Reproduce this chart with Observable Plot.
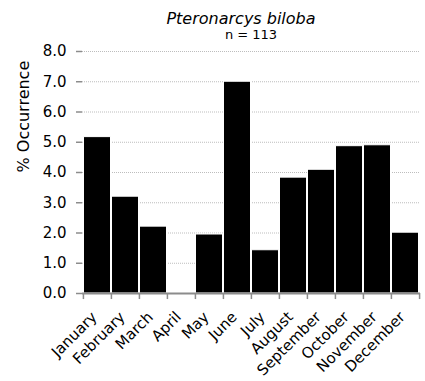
<!DOCTYPE html>
<html><head><meta charset="utf-8">
<script src="https://cdn.jsdelivr.net/npm/d3@7"></script>
<script src="https://cdn.jsdelivr.net/npm/@observablehq/plot@0.6"></script>
<style>
body{margin:0;background:#fff;}
#wrap{position:relative;width:425px;height:381px;font-family:"DejaVu Sans",Verdana,sans-serif;}
#title{position:absolute;left:0;width:482px;top:10.5px;line-height:1;text-align:center;font-size:16px;font-style:italic;}
#sub{position:absolute;left:82px;width:338px;top:28px;line-height:1;text-align:center;font-size:13px;}
#chart{position:absolute;left:0;top:0;}
</style></head>
<body><div id="wrap"><div id="chart"></div><div id="title">Pteronarcys biloba</div><div id="sub">n = 113</div></div>
<script>
const months = ["January","February","March","April","May","June","July","August","September","October","November","December"];
const occurrence = [5.17,3.20,2.21,0,1.95,7.0,1.43,3.83,4.09,4.87,4.90,2.01];
const yTicks = [0,1,2,3,4,5,6,7,8];
const data = months.map((m,i)=>({month:m, value:occurrence[i]}));
const W=425,H=381,ML=82,MR=5,MT=51,MB=88;
const step=(W-ML-MR)/months.length;
const axisColor="#8c8c8c";
const plot = Plot.plot({
  width:W,height:H,marginLeft:ML,marginRight:MR,marginTop:MT,marginBottom:MB,
  style:{fontFamily:"DejaVu Sans, Verdana, sans-serif",fontSize:"15px",color:"#000",background:"#fff"},
  x:{type:"band",domain:months,padding:0,axis:null},
  y:{domain:[0,8],axis:null},
  marks:[
    Plot.ruleY(yTicks.slice(1),{stroke:"#bdbdbd",strokeDasharray:"1,1",strokeWidth:1}),
    Plot.barY(data,{x:"month",y:"value",fill:"#000",stroke:"#fff",strokeWidth:1,insetLeft:0.5,insetRight:0.5}),
    Plot.axisY(yTicks,{tickFormat:d=>d.toFixed(1),tickSize:6,tickPadding:10,stroke:axisColor,strokeWidth:1.5,fontSize:15,label:null}),
    Plot.ruleX([0],{frameAnchor:"left",y1:0,y2:8,stroke:axisColor,strokeWidth:2}),
    Plot.ruleY([0],{stroke:axisColor,strokeWidth:2}),
    Plot.ruleX(months,{x:d=>d,dx:-step/2,y1:0,y2:-0.2,stroke:axisColor,strokeWidth:1.5}),
    Plot.ruleX(months.slice(-1),{x:d=>d,dx:step/2,y1:0,y2:-0.2,stroke:axisColor,strokeWidth:1.5}),
    Plot.text(months,{x:d=>d,y:0,text:d=>d,rotate:-45,textAnchor:"end",dy:21,dx:-3,fontSize:15,fill:"#000"}),
    Plot.text(["% Occurrence"],{frameAnchor:"left",text:d=>d,rotate:-90,dx:-59,fontSize:16,fill:"#000"})
  ]
});
document.getElementById("chart").appendChild(plot);
</script></body></html>
